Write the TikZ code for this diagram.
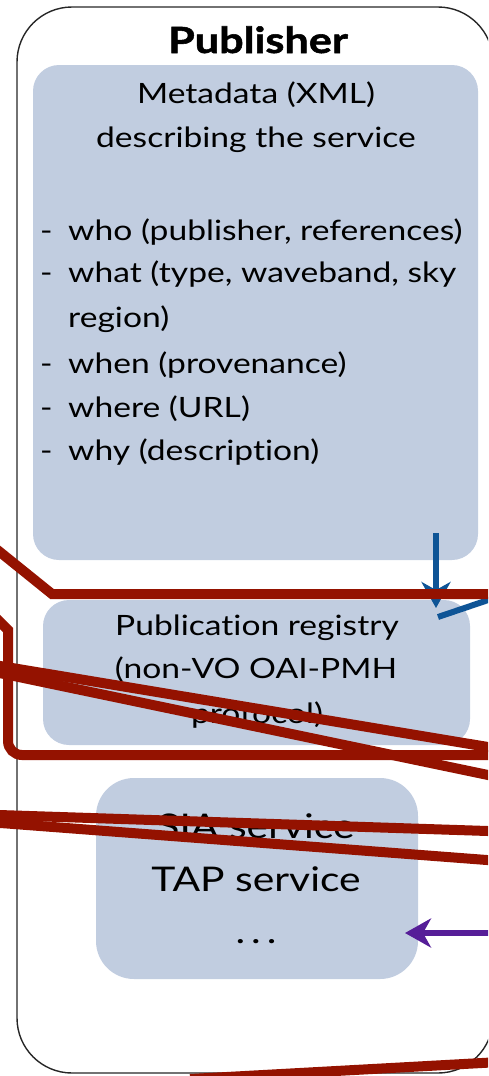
\documentclass[tikz,border=0pt]{standalone}
\usepackage{fontspec}
\setmainfont{Lato}[FakeStretch=1.2, Ligatures=NoCommon]
\usetikzlibrary{arrows.meta}
\definecolor{boxfill}{RGB}{193,205,224}
\definecolor{linkred}{RGB}{148,18,0}
\definecolor{linkblue}{RGB}{14,84,150}
\definecolor{linkpurple}{RGB}{86,30,152}
\tikzset{
  outerbox/.style={draw=black!85, line width=1.4pt, rounded corners=55pt, inner sep=0pt, outer sep=0pt, anchor=north west},
  panel/.style={fill=boxfill, draw=none, rounded corners=#1, inner sep=0pt, outer sep=0pt, anchor=north west},
  titletext/.style={anchor=base, inner sep=0pt, font=\fontsize{36}{44}\selectfont\bfseries\addfontfeatures{FakeBold=1.5}},
  metatext/.style={anchor=base, inner sep=0pt, font=\fontsize{28}{44}\selectfont},
  listtext/.style={anchor=base west, inner sep=0pt, font=\fontsize{28}{44}\selectfont},
  regtext/.style={anchor=base, inner sep=0pt, font=\fontsize{28}{44}\selectfont},
  svctext/.style={anchor=base, inner sep=0pt, font=\fontsize{34}{44}\selectfont},
  redlink/.style={draw=linkred, line width=10pt},
  bluelink/.style={draw=linkblue, line width=6pt},
  purplelink/.style={draw=linkpurple, line width=6pt},
  tip/.style={-{Stealth[length=26pt,width=29pt,inset=8pt]}},
}
\begin{document}
\begin{tikzpicture}[x=1pt,y=-1pt]
\useasboundingbox (0,0) rectangle (488,1076);
\clip (0,0) rectangle (488,1076);
% outer publisher box
\node[outerbox, minimum width=476pt, minimum height=1066pt] (pub) at (17,7) {};
\node[titletext] (title) at (258,53) {Publisher};
% metadata panel
\node[panel=26pt, minimum width=445pt, minimum height=495pt] (meta) at (33,65) {};
\node[metatext] (m1) at (256,103) {Metadata (XML)};
\node[metatext] (m2) at (256,147) {describing the service};
\node[listtext] (d1) at (40,240) {-};
\node[listtext] (l1) at (68,240) {who (publisher, references)};
\node[listtext] (d2) at (40,282) {-};
\node[listtext] (l2) at (68,282) {what (type, waveband, sky};
\node[listtext] (l2b) at (68,327) {region)};
\node[listtext] (d3) at (40,373) {-};
\node[listtext] (l3) at (68,373) {when (provenance)};
\node[listtext] (d4) at (40,417) {-};
\node[listtext] (l4) at (68,417) {where (URL)};
\node[listtext] (d5) at (40,460) {-};
\node[listtext] (l5) at (68,460) {why (description)};
% registry panel
\node[panel=26pt, minimum width=427pt, minimum height=145pt] (reg) at (43,600) {};
\node[regtext] (r1) at (257,635) {Publication registry};
\node[regtext] (r2) at (256,678) {(non-VO OAI-PMH};
\node[regtext] (r3) at (257,723) {protocol)};
% services panel
\node[panel=38pt, minimum width=322pt, minimum height=201pt] (svc) at (96,778) {};
\node[svctext] (s1) at (256,838) {SIA service};
\node[svctext] (s2) at (256,891) {TAP service};
\node[svctext] (s3) at (256,943) {.\hspace{6pt}.\hspace{6pt}.};
% free ends of connectors
\coordinate (bA) at (436,533);
\coordinate (bB) at (436,608);
\coordinate (bC) at (438,617);
\coordinate (bD) at (500,596);
\coordinate (pA) at (500,933);
\coordinate (pB) at (405,933);
\coordinate (rA1) at (-10,544);
\coordinate (rA2) at (52,594);
\coordinate (rA3) at (500,594);
\coordinate (rB1) at (-6,616);
\coordinate (rB2) at (8,630);
\coordinate (rB3) at (8,755);
\coordinate (rB4) at (500,755);
\coordinate (rC1) at (-10,664.3);
\coordinate (rC2) at (500,749);
\coordinate (rD1) at (-10,671);
\coordinate (rD2) at (500,777.5);
\coordinate (rE1) at (-10,814.7);
\coordinate (rE2) at (500,831.4);
\coordinate (rF1) at (-10,822.2);
\coordinate (rF2) at (500,861);
\coordinate (rG1) at (190,1079);
\coordinate (rG2) at (500,1062);
% blue and purple arrows
\draw[bluelink, tip] (bA) -- (bB);
\draw[bluelink] (bC) -- (bD);
\draw[purplelink, tip] (pA) -- (pB);
% red connectors
\draw[redlink] (rA1) -- (rA2) -- (rA3);
\draw[redlink] (rB1) -- (rB2) [rounded corners=14pt] -- (rB3) -- (rB4);
\draw[redlink] (rC1) -- (rC2);
\draw[redlink] (rD1) -- (rD2);
\draw[redlink] (rE1) -- (rE2);
\draw[redlink] (rF1) -- (rF2);
\draw[redlink] (rG1) -- (rG2);
\end{tikzpicture}
\end{document}
